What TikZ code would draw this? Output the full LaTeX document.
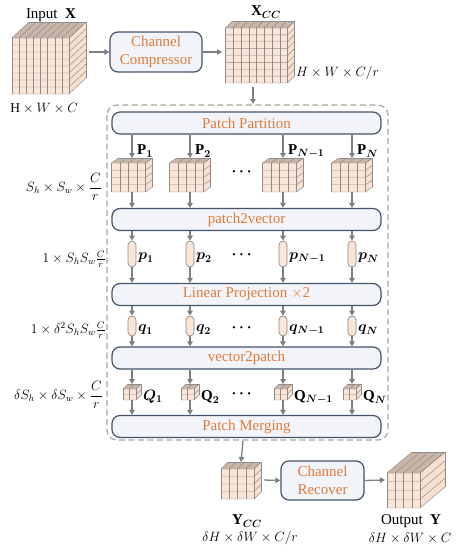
\RequirePackage{fix-cm}
\documentclass[tikz,border=0pt]{standalone}
\usepackage{amsmath}
\usepackage{bm}
\usepackage{fontspec}
\setmainfont{Liberation Serif}
\usetikzlibrary{arrows.meta}
\definecolor{orangetxt}{HTML}{E07B39}
\definecolor{boxborder}{HTML}{44546A}
\definecolor{boxfill}{HTML}{F2F4FA}
\definecolor{dashgray}{HTML}{A6A6A6}
\definecolor{arrowgray}{HTML}{7F7F7F}
\definecolor{cfront}{HTML}{FBE5D6}
\definecolor{ctop}{HTML}{C9B6A8}
\definecolor{cside}{HTML}{F7E0D0}
\definecolor{cline}{HTML}{8C8C8C}
\newcommand{\drawcube}[9]{%
  \pgfmathsetmacro{\cbL}{#2-(#4+#6)/2}%
  \pgfmathsetmacro{\cbR}{\cbL+#4}%
  \pgfmathsetmacro{\cbT}{#3}%
  \pgfmathsetmacro{\cbB}{#3+#5}%
  \fill[cfront] (\cbL,\cbT) rectangle (\cbR,\cbB);
  \fill[ctop] (\cbL,\cbT) -- ++(#6,-#7) -- ({\cbR+#6},{\cbT-#7}) -- (\cbR,\cbT) -- cycle;
  \fill[cside] (\cbR,\cbT) -- ++(#6,-#7) -- ++(0,#5) -- (\cbR,\cbB) -- cycle;
  \foreach \i in {0,...,#8}{
    \draw[cubeline] ({\cbL+\i*#4/#8},\cbT) -- ({\cbL+\i*#4/#8},\cbB);
    \draw[cubeline] ({\cbL+\i*#4/#8},\cbT) -- ++(#6,-#7);
  }
  \foreach \j in {0,...,#9}{
    \draw[cubeline] (\cbL,{\cbT+\j*#5/#9}) -- (\cbR,{\cbT+\j*#5/#9}) -- ++(#6,-#7);
  }
  \draw[cubeline] ({\cbL+#6},{\cbT-#7}) -- ({\cbR+#6},{\cbT-#7}) -- ({\cbR+#6},{\cbB-#7});
  \coordinate (#1-t) at (#2,{\cbT-#7});
  \coordinate (#1-b) at (#2,\cbB);
}
\begin{document}
\begin{tikzpicture}[x=1pt,y=-1pt,
  cubeline/.style={draw=cline,line width=0.45pt},
  bar/.style={draw=boxborder,fill=boxfill,rounded corners=8pt,line width=1.2pt,
    minimum width=269pt,minimum height=22pt,inner sep=0pt,text=orangetxt,
    font=\fontsize{15}{17}\selectfont},
  bigbox/.style={draw=boxborder,fill=boxfill,rounded corners=8pt,line width=1.2pt,
    inner sep=0pt,text=orangetxt,align=center,
    font=\fontsize{15}{18}\selectfont},
  dashbox/.style={draw=dashgray,dashed,dash pattern=on 6pt off 3.5pt,line width=1.2pt,rounded corners=10pt,fill=white},
  arr/.style={draw=arrowgray,line width=1.3pt,-{Triangle[length=5pt,width=5.5pt]}},
  capp/.style={draw=cline,fill=cfront,rounded corners=4pt,minimum width=8pt,minimum height=26pt,inner sep=0pt,line width=0.7pt},
  capq/.style={draw=cline,fill=cfront,rounded corners=4pt,minimum width=8pt,minimum height=20pt,inner sep=0pt,line width=0.7pt},
  lab/.style={inner sep=0pt,font=\fontsize{15}{17}\selectfont},
  dim/.style={inner sep=0pt,font=\fontsize{13.5}{15}\selectfont},
  dots/.style={inner sep=0pt,font=\fontsize{15}{17}\selectfont}
]
\useasboundingbox (0,0) rectangle (456,554);

% top row
\drawcube{X}{49}{38}{57}{56}{17}{16}{8}{8}
\node[lab] (lx) at (51,15) {Input\ \ $\mathbf{X}$};
\node[dim] (dx) at (44,108) {$\mathrm{H}\times W\times C$};
\node[bigbox,minimum width=92pt,minimum height=40pt] (cc) at (156,52) {Channel\\Compressor};
\coordinate (xo) at (89,52);
\draw[arr] (xo) -- (cc.west);
\drawcube{XC}{260}{28}{62}{55}{7}{7}{8}{8}
\coordinate (xci) at (222,52);
\draw[arr] (cc.east) -- (xci);
\node[lab] (lxc) at (266,12) {$\mathbf{X}_{\bm{CC}}$};
\node[dim,anchor=west] (dxc) at (296,73) {$H\times W\times C/r$};

% dashed container
\draw[dashbox] (107,105) rectangle (388,440);
\coordinate (xcb) at (253,87);
\coordinate (dbt) at (253,104);
\draw[arr] (xcb) -- (dbt);

% bars
\node[bar] (pp) at (246.5,123) {Patch Partition};
\node[bar] (p2v) at (246.5,219.5) {patch2vector};
\node[bar] (lp) at (246.5,294.5) {Linear Projection $\times$2};
\node[bar] (v2p) at (246.5,358) {vector2patch};
\node[bar] (pm) at (246.5,426.5) {Patch Merging};

% columns
\foreach \c/\x in {1/132,2/190,3/283,4/352}{
  \drawcube{P\c}{\x}{163}{34}{29}{7}{5}{4}{4}
  \draw[arr] (pp.south -| P\c-t) -- (P\c-t);
  \draw[arr] (P\c-b) -- (p2v.north -| P\c-b);
  \node[capp] (pv\c) at (\x,254) {};
  \draw[arr] (p2v.south -| pv\c) -- (pv\c.north);
  \draw[arr] (pv\c.south) -- (lp.north -| pv\c);
  \node[capq] (qv\c) at (\x,326) {};
  \draw[arr] (lp.south -| qv\c) -- (qv\c.north);
  \draw[arr] (qv\c.south) -- (v2p.north -| qv\c);
  \drawcube{Q\c}{\x}{389}{13}{11}{5}{5}{2}{2}
  \draw[arr] (v2p.south -| Q\c-t) -- (Q\c-t);
  \draw[arr] (Q\c-b) -- (pm.north -| Q\c-b);
}

% column labels
\node[lab,anchor=west] (lp1) at (137,151) {$\mathbf{P}_{\bm{1}}$};
\node[lab,anchor=west] (lp2) at (195,151) {$\mathbf{P}_{\bm{2}}$};
\node[lab,anchor=west] (lp3) at (288,151) {$\mathbf{P}_{\bm{N-1}}$};
\node[lab,anchor=west] (lp4) at (357,151) {$\mathbf{P}_{\bm{N}}$};
\node[lab,anchor=west] (lv1) at (138,258) {$\bm{p}_{\bm{1}}$};
\node[lab,anchor=west] (lv2) at (196,258) {$\bm{p}_{\bm{2}}$};
\node[lab,anchor=west] (lv3) at (289,258) {$\bm{p}_{\bm{N-1}}$};
\node[lab,anchor=west] (lv4) at (358,258) {$\bm{p}_{\bm{N}}$};
\node[lab,anchor=west] (lq1) at (138,330) {$\bm{q}_{\bm{1}}$};
\node[lab,anchor=west] (lq2) at (196,330) {$\bm{q}_{\bm{2}}$};
\node[lab,anchor=west] (lq3) at (289,330) {$\bm{q}_{\bm{N-1}}$};
\node[lab,anchor=west] (lq4) at (358,330) {$\bm{q}_{\bm{N}}$};
\node[lab,anchor=west] (lQ1) at (143,397) {$\bm{Q}_{\bm{1}}$};
\node[lab,anchor=west] (lQ2) at (201,397) {$\mathbf{Q}_{\bm{2}}$};
\node[lab,anchor=west] (lQ3) at (294,397) {$\mathbf{Q}_{\bm{N-1}}$};
\node[lab,anchor=west] (lQ4) at (363,397) {$\mathbf{Q}_{\bm{N}}$};

% dots
\node[dots] (d1) at (243,172) {$\bm{\cdots}$};
\node[dots] (d2) at (243,255) {$\bm{\cdots}$};
\node[dots] (d3) at (243,328) {$\bm{\cdots}$};
\node[dots] (d4) at (243,394) {$\bm{\cdots}$};

% left dimension labels
\node[dim,anchor=east] (ds1) at (102,187) {$S_h\times S_w\times\dfrac{C}{r}$};
\node[dim,anchor=east] (ds2) at (106,259) {$1\times S_hS_w\frac{C}{r}$};
\node[dim,anchor=east] (ds3) at (106,330) {$1\times \delta^2S_hS_w\frac{C}{r}$};
\node[dim,anchor=east] (ds4) at (103,395) {$\delta S_h\times \delta S_w\times\dfrac{C}{r}$};

% bottom row
\drawcube{YC}{241}{469}{33}{30}{7}{7}{4}{4}
\coordinate (dbb) at (243,441);
\draw[arr] (dbb) -- (YC-t);
\node[bigbox,minimum width=83pt,minimum height=39pt] (cr) at (322.5,480.5) {Channel\\Recover};
\coordinate (yco) at (264,480);
\draw[arr] (yco) -- (cr.west);
\drawcube{Y}{416}{473}{33}{35}{25}{21}{4}{4}
\coordinate (yi) at (385,480);
\draw[arr] (cr.east) -- (yi);
\node[lab] (lyc) at (247,521) {$\mathbf{Y}_{\bm{CC}}$};
\node[dim] (dyc) at (250,538) {$\delta H\times \delta W\times C/r$};
\node[lab] (ly) at (411,521) {Output\ \ $\mathbf{Y}$};
\node[dim] (dy) at (410,538) {$\delta H\times \delta W\times C$};
\end{tikzpicture}
\end{document}
